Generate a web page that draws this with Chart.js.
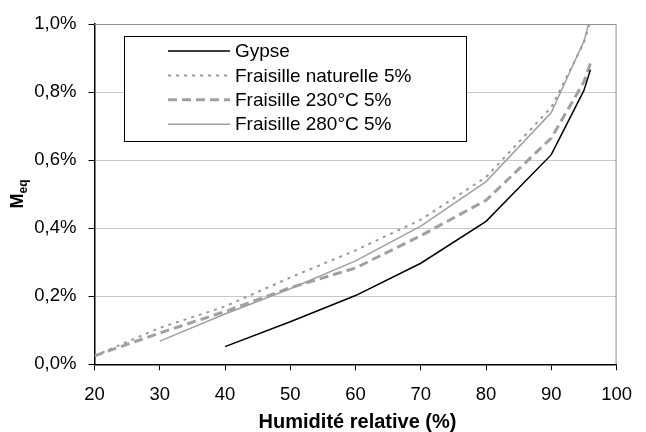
<!DOCTYPE html>
<html>
<head>
<meta charset="utf-8">
<script src="https://cdn.jsdelivr.net/npm/chart.js@4/dist/chart.umd.min.js"></script>
<style>
  html, body { margin: 0; padding: 0; background: #fff; }
  #wrap { width: 646px; height: 432px; }
</style>
</head>
<body>
<div id="wrap"><canvas id="meqChart" width="646" height="432"></canvas></div>
<script>
// humidité relative (%) et teneur en eau d'équilibre (%)
const humidite = [20, 30, 40, 50, 60, 70, 80, 90, 95, 96];
const gypse = [null, null, 0.052, 0.125, 0.202, 0.297, 0.420, 0.616, 0.805, 0.866];
const fraisilleNat = [0.025, 0.107, 0.170, 0.255, 0.335, 0.425, 0.550, 0.755, 0.945, 1.01];
const fraisille230 = [0.025, 0.092, 0.155, 0.225, 0.283, 0.378, 0.482, 0.665, 0.830, 0.885];
const fraisille280 = [null, 0.068, 0.148, 0.222, 0.304, 0.406, 0.537, 0.740, 0.950, 1.02];
const labels = ['Gypse', 'Fraisille naturelle 5%', 'Fraisille 230°C 5%', 'Fraisille 280°C 5%'];

const toPts = arr => humidite.map((h, i) => ({ x: h, y: arr[i] }));
const FONT = 'Liberation Sans, Arial, sans-serif';

// cadre gris, légende encadrée et titres d'axes
const decor = {
    id: 'decor',
    beforeDatasetsDraw(chart) {
        const { ctx, chartArea: a } = chart;
        ctx.save();
        ctx.strokeStyle = '#909090';
        ctx.lineWidth = 1;
        ctx.beginPath();
        ctx.moveTo(a.left, a.top + 0.5);
        ctx.lineTo(a.right - 0.5, a.top + 0.5);
        ctx.lineTo(a.right - 0.5, a.bottom);
        ctx.stroke();
        ctx.restore();
    },
    afterDraw(chart) {
        const ctx = chart.ctx;
        ctx.save();
        // légende
        ctx.fillStyle = '#fff';
        ctx.fillRect(124.5, 36.5, 342, 105);
        ctx.strokeStyle = '#000';
        ctx.lineWidth = 1;
        ctx.strokeRect(124.5, 36.5, 342, 105);
        chart.data.datasets.forEach((ds, i) => {
            const y = 51 + i * 24.4;
            ctx.beginPath();
            ctx.strokeStyle = ds.borderColor;
            ctx.lineWidth = ds.borderWidth;
            ctx.setLineDash(ds.borderDash || []);
            ctx.moveTo(168, y);
            ctx.lineTo(230, y);
            ctx.stroke();
            ctx.setLineDash([]);
            ctx.fillStyle = '#000';
            ctx.font = '19px ' + FONT;
            ctx.textBaseline = 'middle';
            ctx.textAlign = 'left';
            ctx.fillText(ds.label, 235, y + 1);
        });
        // titre axe x
        ctx.fillStyle = '#000';
        ctx.font = 'bold 20px ' + FONT;
        ctx.textAlign = 'center';
        ctx.textBaseline = 'middle';
        const a = chart.chartArea;
        ctx.fillText('Humidité relative (%)', (a.left + a.right) / 2 + 2, 422);
        // titre axe y : M indice eq
        ctx.translate(23, 194);
        ctx.rotate(-Math.PI / 2);
        ctx.textAlign = 'left';
        ctx.textBaseline = 'alphabetic';
        ctx.font = 'bold 18px ' + FONT;
        const wM = ctx.measureText('M').width;
        ctx.font = 'bold 12px ' + FONT;
        const wEq = ctx.measureText('eq').width;
        const x0 = -(wM + wEq) / 2;
        ctx.font = 'bold 18px ' + FONT;
        ctx.fillText('M', x0, 0);
        ctx.font = 'bold 12px ' + FONT;
        ctx.fillText('eq', x0 + wM, 4);
        ctx.restore();
    }
};

new Chart(document.getElementById('meqChart'), {
    type: 'line',
    data: {
        datasets: [{
            label: labels[0],
            data: toPts(gypse),
            borderColor: '#000000',
            borderWidth: 1.5
        }, {
            label: labels[1],
            data: toPts(fraisilleNat),
            borderColor: '#9a9a9a',
            borderWidth: 2,
            borderDash: [3, 5]
        }, {
            label: labels[2],
            data: toPts(fraisille230),
            borderColor: '#a0a0a0',
            borderWidth: 3,
            borderDash: [9, 5]
        }, {
            label: labels[3],
            data: toPts(fraisille280),
            borderColor: '#a0a0a0',
            borderWidth: 1.5
        }]
    },
    options: {
        responsive: false,
        animation: false,
        layout: { padding: { top: 24, right: 19.3, left: 0, bottom: 0 } },
        elements: {
            point: { radius: 0 },
            line: { tension: 0, fill: false, borderCapStyle: 'butt' }
        },
        plugins: {
            legend: { display: false },
            tooltip: { enabled: false }
        },
        scales: {
            x: {
                type: 'linear',
                min: 20,
                max: 100,
                afterFit: s => { s.height = 432 - 364.3; },
                ticks: {
                    stepSize: 10,
                    color: '#000',
                    padding: 14,
                    maxRotation: 0,
                    font: { family: FONT, size: 18.5 }
                },
                grid: {
                    drawOnChartArea: false,
                    tickLength: 6,
                    tickColor: '#000'
                },
                border: { color: '#000', width: 1.5 }
            },
            y: {
                min: 0,
                max: 1.0,
                afterFit: s => { s.width = 94.5; },
                ticks: {
                    stepSize: 0.2,
                    color: '#000',
                    padding: 12,
                    font: { family: FONT, size: 18.5 },
                    callback: v => v.toFixed(1).replace('.', ',') + '%'
                },
                grid: {
                    color: '#c8c8c8',
                    lineWidth: 1,
                    tickLength: 6,
                    tickColor: '#000'
                },
                border: { color: '#000', width: 1.5 }
            }
        }
    },
    plugins: [decor]
});
</script>
</body>
</html>
